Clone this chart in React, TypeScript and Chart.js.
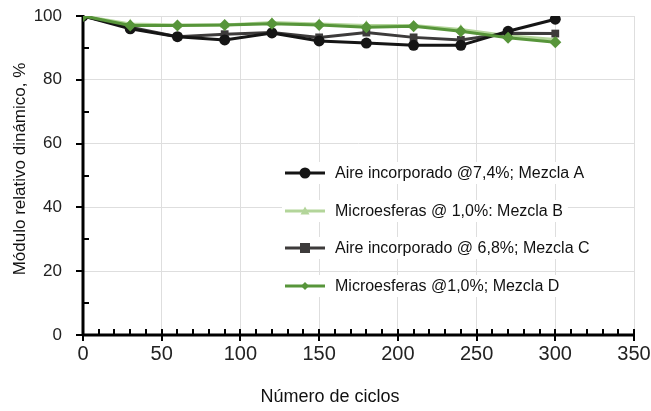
import React, { useEffect, useRef } from "react";
import { Chart, registerables } from "chart.js";

Chart.register(...registerables);

const cycles = [0, 30, 60, 90, 120, 150, 180, 210, 240, 270, 300];
const mezclaA = [100, 96, 93.5, 92.5, 94.7, 92.2, 91.5, 90.8, 90.8, 95.2, 99];
const mezclaB = [100, 97.5, 97.2, 97.2, 98, 97.5, 97, 97, 95.8, 93.8, 92.6];
const mezclaC = [100, 96.5, 93.5, 94.3, 94.8, 93.3, 94.8, 93.3, 92.5, 94.6, 94.5];
const mezclaD = [100, 97, 97, 97.2, 97.6, 97.2, 96.5, 96.8, 95.2, 93.2, 91.8];

const labelA = "Aire incorporado @7,4%; Mezcla A";
const labelB = "Microesferas @ 1,0%: Mezcla B";
const labelC = "Aire incorporado @ 6,8%; Mezcla C";
const labelD = "Microesferas @1,0%; Mezcla D";

const xTitle = "Número de ciclos";
const yTitle = "Módulo relativo dinámico, %";

const colA = "#151515";
const colB = "#b3d59a";
const colC = "#3d3b3b";
const colD = "#57953a";

const FONT = "'Liberation Sans', Arial, sans-serif";

function toPts(vals: number[]) {
  return vals.map((v, i) => ({ x: cycles[i], y: v }));
}

function drawMarker(ctx: CanvasRenderingContext2D, style: string, x: number, y: number, r: number, color: string) {
  ctx.save();
  ctx.fillStyle = color;
  ctx.beginPath();
  if (style === "circle") {
    ctx.arc(x, y, r, 0, Math.PI * 2);
  } else if (style === "rect") {
    ctx.rect(x - r, y - r, 2 * r, 2 * r);
  } else if (style === "triangle") {
    ctx.moveTo(x, y - r);
    ctx.lineTo(x + r, y + r * 0.8);
    ctx.lineTo(x - r, y + r * 0.8);
    ctx.closePath();
  } else {
    ctx.moveTo(x, y - r);
    ctx.lineTo(x + r, y);
    ctx.lineTo(x, y + r);
    ctx.lineTo(x - r, y);
    ctx.closePath();
  }
  ctx.fill();
  ctx.restore();
}

const decor = {
  id: "decor",
  beforeDatasetsDraw(chart: any) {
    const { ctx, chartArea, scales } = chart;
    const xs = scales.x;
    const ys = scales.y;
    ctx.save();
    ctx.strokeStyle = "#000";
    ctx.lineWidth = 3;
    ctx.beginPath();
    ctx.moveTo(chartArea.left, chartArea.top - 1);
    ctx.lineTo(chartArea.left, chartArea.bottom + 1);
    ctx.moveTo(chartArea.left - 1, chartArea.bottom);
    ctx.lineTo(chartArea.right + 1, chartArea.bottom);
    ctx.stroke();
    ctx.lineWidth = 2;
    ctx.beginPath();
    for (let v = 0; v <= 100; v += 10) {
      const y = Math.round(ys.getPixelForValue(v));
      if (v % 20 === 0) {
        ctx.moveTo(chartArea.left - 7, y);
        ctx.lineTo(chartArea.left, y);
      } else {
        ctx.moveTo(chartArea.left, y);
        ctx.lineTo(chartArea.left + 6, y);
      }
    }
    for (let v = 0; v <= 350; v += 10) {
      const x = Math.round(xs.getPixelForValue(v));
      if (v % 50 === 0) {
        ctx.moveTo(x, chartArea.bottom - 6);
        ctx.lineTo(x, chartArea.bottom + 6);
      } else {
        ctx.moveTo(x, chartArea.bottom - 6);
        ctx.lineTo(x, chartArea.bottom);
      }
    }
    ctx.stroke();
    ctx.restore();
  },
  afterDraw(chart: any) {
    const { ctx } = chart;
    ctx.save();
    // axis titles
    ctx.fillStyle = "#111";
    ctx.textAlign = "center";
    ctx.textBaseline = "middle";
    ctx.font = `18px ${FONT}`;
    ctx.fillText(xTitle, 330, 397);
    ctx.save();
    ctx.translate(20, 169);
    ctx.rotate(-Math.PI / 2);
    ctx.font = `17px ${FONT}`;
    ctx.fillText(yTitle, 0, 0);
    ctx.restore();

    // legend
    const items = [
      { label: labelA, color: colA, style: "circle", r: 5.5 },
      { label: labelB, color: colB, style: "triangle", r: 4.5 },
      { label: labelC, color: colC, style: "rect", r: 5 },
      { label: labelD, color: colD, style: "diamond", r: 4 },
    ];
    const rows = [173, 211, 248, 286];
    ctx.font = `16px ${FONT}`;
    ctx.textAlign = "left";
    ctx.textBaseline = "middle";
    items.forEach((it, i) => {
      const y = rows[i];
      const w = ctx.measureText(it.label).width;
      ctx.fillStyle = "#fff";
      ctx.fillRect(282, y - 11, w + 58, 22);
      ctx.strokeStyle = it.color;
      ctx.lineWidth = 3;
      ctx.beginPath();
      ctx.moveTo(285, y);
      ctx.lineTo(325, y);
      ctx.stroke();
      drawMarker(ctx, it.style, 305, y, it.r, it.color);
      ctx.fillStyle = "#111";
      ctx.fillText(it.label, 335, y + 1);
    });
    ctx.restore();
  },
};

export default function App() {
  const ref = useRef<HTMLCanvasElement | null>(null);

  useEffect(() => {
    if (!ref.current) return;
    const chart = new Chart(ref.current, {
      type: "line",
      data: {
        datasets: [
          {
            label: labelA,
            data: toPts(mezclaA),
            borderColor: colA,
            backgroundColor: colA,
            borderWidth: 3,
            pointStyle: "circle",
            pointRadius: 5.5,
            pointBorderWidth: 0,
            order: 1,
          },
          {
            label: labelB,
            data: toPts(mezclaB),
            borderColor: colB,
            backgroundColor: colB,
            borderWidth: 3,
            pointStyle: "triangle",
            pointRadius: 5.5,
            pointBorderWidth: 0,
            order: 3,
          },
          {
            label: labelC,
            data: toPts(mezclaC),
            borderColor: colC,
            backgroundColor: colC,
            borderWidth: 3,
            pointStyle: "rect",
            pointRadius: 5.5,
            pointBorderWidth: 0,
            order: 2,
          },
          {
            label: labelD,
            data: toPts(mezclaD),
            borderColor: colD,
            backgroundColor: colD,
            borderWidth: 3,
            pointStyle: "rectRot",
            pointRadius: 6,
            pointBorderWidth: 0,
            order: 0,
          },
        ],
      },
      options: {
        responsive: false,
        animation: false,
        devicePixelRatio: 1,
        layout: { padding: { top: 16, right: 17, left: 0, bottom: 0 } },
        plugins: { legend: { display: false }, tooltip: { enabled: false } },
        scales: {
          x: {
            type: "linear",
            min: 0,
            max: 350,
            ticks: {
              stepSize: 50,
              padding: 7,
              color: "#222",
              font: { family: FONT, size: 20 },
              maxRotation: 0,
            },
            grid: { color: "#dedede", lineWidth: 1, drawTicks: false },
            border: { display: false },
            afterFit(scale: any) {
              scale.height = 76;
              scale.paddingLeft = 0;
              scale.paddingRight = 0;
            },
          },
          y: {
            min: 0,
            max: 100,
            ticks: {
              stepSize: 20,
              padding: 21,
              color: "#222",
              font: { family: FONT, size: 17 },
            },
            grid: { color: "#dedede", lineWidth: 1, drawTicks: false },
            border: { display: false },
            afterFit(scale: any) {
              scale.width = 83;
              scale.paddingTop = 0;
              scale.paddingBottom = 0;
            },
          },
        },
      },
      plugins: [decor],
    });
    return () => chart.destroy();
  }, []);

  return (
    <div style={{ position: "absolute", left: 0, top: 0, width: 651, height: 411, background: "#fff" }}>
      <canvas ref={ref} width={651} height={411} style={{ display: "block" }} />
    </div>
  );
}
